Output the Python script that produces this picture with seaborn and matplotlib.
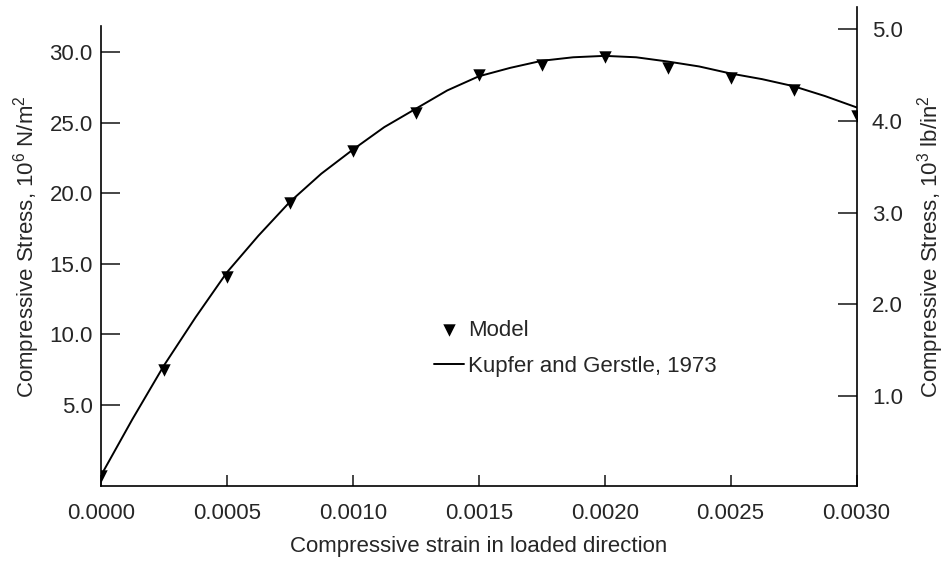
import numpy as np
import pandas as pd
import seaborn as sns
import matplotlib.pyplot as plt

# model points (triangles)
model_strain = [0.0, 0.00025, 0.0005, 0.00075, 0.001, 0.00125, 0.0015,
                0.00175, 0.002, 0.00225, 0.0025, 0.00275, 0.003]
model_stress = [0.0, 7.5, 14.1, 19.3, 23.0, 25.7, 28.4,
                29.1, 29.7, 28.9, 28.2, 27.3, 25.5]

# Kupfer and Gerstle curve
kg_strain = [0.0, 0.000125, 0.00025, 0.000375, 0.0005, 0.000625, 0.00075,
             0.000875, 0.001, 0.001125, 0.00125, 0.001375, 0.0015, 0.001625,
             0.00175, 0.001875, 0.002, 0.002125, 0.00225, 0.002375, 0.0025,
             0.002625, 0.00275, 0.002875, 0.003]
kg_stress = [0.0, 4.0, 7.8, 11.2, 14.4, 17.0, 19.4,
             21.4, 23.1, 24.7, 26.0, 27.3, 28.3, 28.9,
             29.4, 29.65, 29.75, 29.65, 29.35, 29.0, 28.5,
             28.1, 27.6, 26.9, 26.1]

x_ticks = [0.0, 0.0005, 0.001, 0.0015, 0.002, 0.0025, 0.003]
left_ticks = [5.0, 10.0, 15.0, 20.0, 25.0, 30.0]
right_ticks = [1.0, 2.0, 3.0, 4.0, 5.0]

sns.set_style("ticks")
plt.rcParams['font.family'] = ['Liberation Sans', 'DejaVu Sans']
plt.rcParams['mathtext.fontset'] = 'custom'
plt.rcParams['mathtext.rm'] = 'Liberation Sans'
plt.rcParams['mathtext.it'] = 'Liberation Sans'

model_df = pd.DataFrame({'strain': model_strain, 'stress': model_stress})
kg_df = pd.DataFrame({'strain': kg_strain, 'stress': kg_stress})

fig = plt.figure(figsize=(9.48, 5.62), dpi=100)
ax = fig.add_axes([0.1065, 0.1352, 0.797, 0.852])

sns.scatterplot(data=model_df, x='strain', y='stress', marker='v', s=80,
                color='black', edgecolor='black', linewidth=0, ax=ax,
                label='Model', zorder=3)
sns.lineplot(data=kg_df, x='strain', y='stress', color='black', linewidth=1.4,
             ax=ax, label='Kupfer and Gerstle, 1973', zorder=2)

ax.set_xlim(0.0, 0.003)
ax.set_ylim(-0.74, 33.2)
ax.set_xticks(x_ticks)
ax.set_xticklabels([f'{t:.4f}' for t in x_ticks])
ax.set_yticks(left_ticks)
ax.set_yticklabels([f'{t:.1f}' for t in left_ticks])
ax.set_xlabel('Compressive strain in loaded direction', fontsize=16, labelpad=9)
ax.set_ylabel('Compressive Stress, 10$^6$ N/m$^2$', fontsize=16, labelpad=5)
ax.tick_params(axis='x', direction='in', length=8, width=1.2, labelsize=16, pad=12)
ax.tick_params(axis='y', direction='in', length=14, width=1.2, labelsize=16, pad=6)

ax.spines['top'].set_visible(False)
ax.spines['right'].set_visible(False)
ax.spines['left'].set_bounds(-0.74, 31.9)
for side in ['left', 'bottom']:
    ax.spines[side].set_linewidth(1.2)
    ax.spines[side].set_color('black')

ax2 = ax.twinx()
ax2.set_ylim(0.018, 5.24)
ax2.set_yticks(right_ticks)
ax2.set_yticklabels([f'{t:.1f}' for t in right_ticks])
ax2.set_ylabel('Compressive Stress, 10$^3$ lb/in$^2$', fontsize=16, labelpad=9)
ax2.tick_params(axis='y', direction='in', length=14, width=1.2, labelsize=16, pad=11)
ax2.spines['top'].set_visible(False)
ax2.spines['left'].set_visible(False)
ax2.spines['bottom'].set_visible(False)
ax2.spines['right'].set_linewidth(1.2)
ax2.spines['right'].set_color('black')

leg = ax.legend(loc='upper left', bbox_to_anchor=(0.429, 0.365), frameon=False,
                fontsize=16, handlelength=1.35, handletextpad=0.2,
                labelspacing=0.68, borderaxespad=0)
ax.get_legend().remove()
ax2.add_artist(leg)

fig.savefig('out.png', dpi=100)
